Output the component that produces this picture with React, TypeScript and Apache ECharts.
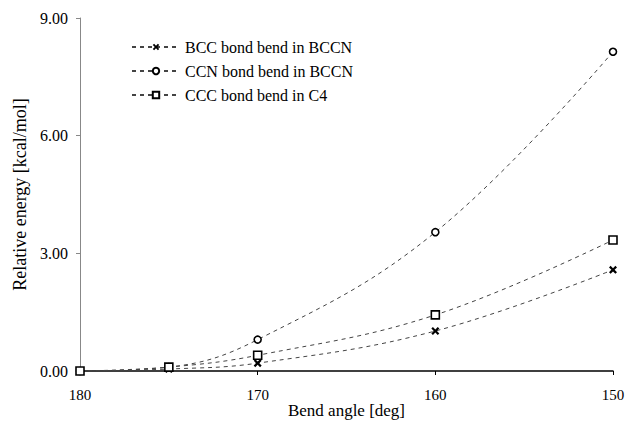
import React, { useEffect, useRef } from "react";
import * as echarts from "echarts";

const angles = [180, 175, 170, 160, 150];
const bccBend = [0, 0.05, 0.2, 1.02, 2.58];
const ccnBend = [0, 0.1, 0.8, 3.54, 8.14];
const cccBend = [0, 0.1, 0.4, 1.43, 3.34];
const seriesNames = ["BCC bond bend in BCCN", "CCN bond bend in BCCN", "CCC bond bend in C4"];

const FONT = "'Times New Roman', 'Liberation Serif', serif";
const X_SYMBOL = "path://M0,2L2,0L5,3L8,0L10,2L7,5L10,8L8,10L5,7L2,10L0,8L3,5Z";

export default function App() {
  const ref = useRef<HTMLDivElement>(null);
  useEffect(() => {
    if (!ref.current) return;
    const chart = echarts.init(ref.current, undefined, { renderer: "svg" });
    const mk = (name: string, vals: number[], symbol: string, size: number) => ({
      name,
      type: "line",
      smooth: 0.4,
      data: angles.map((a, i) => [a, vals[i]]),
      symbol,
      symbolSize: size,
      showAllSymbol: true,
      lineStyle: { color: "#444", width: 1, type: [4, 4] },
      itemStyle: { color: symbol === X_SYMBOL ? "#000" : "#fff", borderColor: "#000", borderWidth: symbol === X_SYMBOL ? 0 : 1.6 },
    });
    chart.setOption({
      animation: false,
      backgroundColor: "#fff",
      textStyle: { fontFamily: FONT },
      grid: { left: 80, right: 16, top: 18, bottom: 50, containLabel: false, outerBoundsMode: "none" },
      legend: {
        orient: "vertical",
        left: 126,
        top: 34,
        itemGap: 8,
        itemWidth: 48,
        itemHeight: 8,
        textStyle: { fontFamily: FONT, fontSize: 16, color: "#000" },
        data: seriesNames,
      },
      xAxis: {
        type: "value",
        inverse: true,
        min: 150,
        max: 180,
        interval: 10,
        name: "Bend angle [deg]",
        nameLocation: "middle",
        nameGap: 31,
        nameMoveOverlap: false,
        nameTextStyle: { fontFamily: FONT, fontSize: 17, color: "#000" },
        axisLine: { onZero: false, lineStyle: { color: "#000", width: 1.5 } },
        axisTick: { show: true, length: 4, lineStyle: { color: "#000" } },
        axisLabel: { fontFamily: FONT, fontSize: 15, color: "#000", margin: 16 },
        splitLine: { show: false },
      },
      yAxis: {
        type: "value",
        min: 0,
        max: 9,
        interval: 3,
        name: "Relative energy [kcal/mol]",
        nameLocation: "middle",
        nameGap: 51,
        nameMoveOverlap: false,
        nameTextStyle: { fontFamily: FONT, fontSize: 18, color: "#000" },
        axisLine: { show: true, lineStyle: { color: "#888", width: 1 } },
        axisTick: { show: true, length: 4, lineStyle: { color: "#888" } },
        axisLabel: { fontFamily: FONT, fontSize: 16, color: "#000", margin: 12, formatter: (v: number) => v.toFixed(2) },
        splitLine: { show: false },
      },
      series: [
        mk(seriesNames[0], bccBend, X_SYMBOL, 8),
        mk(seriesNames[1], ccnBend, "circle", 7),
        mk(seriesNames[2], cccBend, "rect", 8),
      ],
    });
    return () => chart.dispose();
  }, []);
  return <div ref={ref} style={{ position: "absolute", left: 0, top: 0, width: 629, height: 421 }} />;
}
